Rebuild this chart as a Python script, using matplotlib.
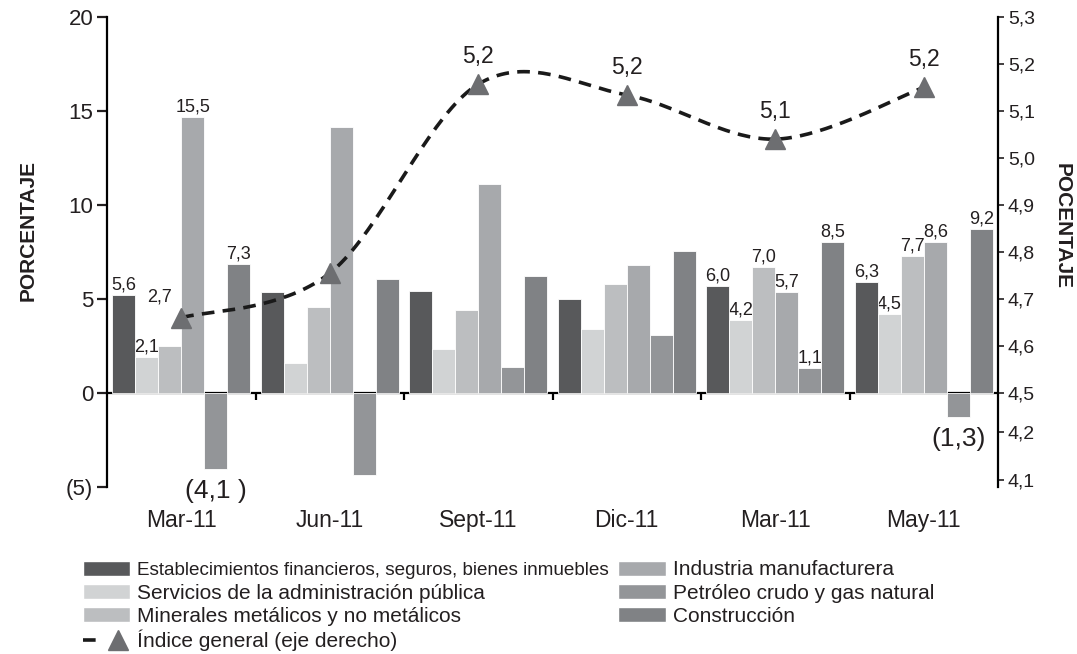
import numpy as np
import matplotlib
matplotlib.use('Agg')
import matplotlib.pyplot as plt
from matplotlib.patches import Patch
from matplotlib.lines import Line2D
from matplotlib.legend_handler import HandlerTuple

plt.rcParams['font.family'] = ['Liberation Sans', 'DejaVu Sans']

# data
categorias = ['Mar-11', 'Jun-11', 'Sept-11', 'Dic-11', 'Mar-11', 'May-11']

financieros  = [5.2, 5.37, 5.43, 5.0, 5.69, 5.9]
servicios    = [1.93, 1.6, 2.34, 3.4, 3.88, 4.2]
minerales    = [2.5, 4.57, 4.41, 5.8, 6.7, 7.29]
industria    = [14.7, 14.15, 11.1, 6.8, 5.37, 8.03]
petroleo     = [-4.05, -4.36, 1.38, 3.09, 1.33, -1.28]
construccion = [6.86, 6.06, 6.22, 7.55, 8.03, 8.72]
indice       = [4.66, 4.755, 5.157, 5.134, 5.04, 5.15]

lab_financieros  = ['5,6', '', '', '', '6,0', '6,3']
lab_servicios    = ['2,1', '', '', '', '4,2', '4,5']
lab_minerales    = ['', '', '', '', '7,0', '7,7']
lab_industria    = ['15,5', '', '', '', '5,7', '8,6']
lab_petroleo     = ['(4,1 )', '', '', '', '1,1', '(1,3)']
lab_construccion = ['7,3', '', '', '', '8,5', '9,2']
lab_indice       = ['2,7', '', '5,2', '5,2', '5,1', '5,2']

nombres = ['Establecimientos financieros, seguros, bienes inmuebles',
           'Servicios de la administración pública',
           'Minerales metálicos y no metálicos',
           'Industria manufacturera',
           'Petróleo crudo y gas natural',
           'Construcción']
nombre_indice = 'Índice general (eje derecho)'

izq_ticks = [-5, 0, 5, 10, 15, 20]
izq_labels = ['(5)', '0', '5', '10', '15', '20']
der_ticks = [4.315, 4.417, 4.5, 4.6, 4.7, 4.8, 4.9, 5.0, 5.1, 5.2, 5.3]
der_labels = ['4,1', '4,2', '4,5', '4,6', '4,7', '4,8', '4,9', '5,0', '5,1', '5,2', '5,3']

colores = ['#58595b', '#d1d3d4', '#bcbec0', '#a7a9ac', '#939598', '#808285']
txt = '#231f20'


def suavizar(ax, xs, ys, n=40):
	# Bezier through the points, like a spreadsheet "smoothed line"
	p = ax.transData.transform(np.column_stack([xs, ys]))
	p = np.vstack([p[0], p, p[-1]])
	out = []
	t = np.linspace(0, 1, n)[:, None]
	for i in range(1, len(p) - 2):
		p0, p3 = p[i], p[i + 1]
		c1 = p0 + (p[i + 1] - p[i - 1]) / 6.0
		c2 = p3 - (p[i + 2] - p[i]) / 6.0
		seg = (1 - t)**3 * p0 + 3 * (1 - t)**2 * t * c1 + 3 * (1 - t) * t**2 * c2 + t**3 * p3
		out.append(seg)
	out = np.vstack(out)
	d = ax.transData.inverted().transform(out)
	return d[:, 0], d[:, 1]


fig = plt.figure(figsize=(10.77, 6.54), dpi=100)
ax = fig.add_axes([0.0994, 0.2554, 0.8273, 0.7187])
ax2 = ax.twinx()

ax.set_xlim(-0.5, 5.5)
ax.set_ylim(-5, 20)
ax2.set_ylim(4.3, 5.3)

x = np.arange(len(categorias))
w = 0.155
series = [financieros, servicios, minerales, industria, petroleo, construccion]
etiquetas = [lab_financieros, lab_servicios, lab_minerales, lab_industria, lab_petroleo, lab_construccion]

ax.axhline(0, color='black', lw=1.6, zorder=1)
ax.vlines(x[:-1] + 0.5, -0.4, 0, color='black', lw=1.6, zorder=1)

for i, vals in enumerate(series):
	xi = x + (i - 2.5) * w
	ax.bar(xi, vals, w, color=colores[i], edgecolor='white', linewidth=0.6, zorder=3)
	for xx, v, s in zip(xi, vals, etiquetas[i]):
		if not s:
			continue
		if v < 0:
			ax.annotate(s, (xx, v), xytext=(0, -7), textcoords='offset points',
				ha='center', va='top', fontsize=19, color=txt, zorder=2)
		else:
			ax.annotate(s, (xx, v), xytext=(0, 1), textcoords='offset points',
				ha='center', va='bottom', fontsize=13, color=txt, zorder=2)

# general index on right axis
lx, ly = suavizar(ax2, x, indice)
ax2.plot(lx, ly, color='#1a1a1a', lw=2.6, linestyle=(0, (3.5, 2.3)), zorder=4)
ax2.plot(x, indice, linestyle='none', marker='^', markersize=15, color='#6d6e71', zorder=5)
for i, (xx, v, s) in enumerate(zip(x, indice, lab_indice)):
	if not s:
		continue
	if i == 0:
		ax2.annotate(s, (xx, v), xytext=(-16, 15), textcoords='offset points',
			ha='center', va='center', fontsize=13, color=txt)
	else:
		ax2.annotate(s, (xx, v), xytext=(0, 20), textcoords='offset points',
			ha='center', va='center', fontsize=16.5, color=txt)

# spines and ticks
for s in ['top', 'bottom', 'right']:
	ax.spines[s].set_visible(False)
for s in ['top', 'bottom', 'left']:
	ax2.spines[s].set_visible(False)
ax.spines['left'].set_linewidth(1.6)
ax2.spines['right'].set_linewidth(1.6)

ax.set_yticks(izq_ticks, izq_labels)
ax.tick_params(axis='y', direction='out', length=7, width=1.6, labelsize=16, pad=3, colors=txt)
ax2.set_yticks(der_ticks, der_labels)
ax2.tick_params(axis='y', direction='out', length=4, width=1.2, labelsize=14, pad=3, colors=txt)

ax.set_xticks(x, categorias)
ax.tick_params(axis='x', length=0, pad=16, labelsize=16.5, colors=txt)

fig.text(0.026, 0.648, 'PORCENTAJE', rotation=90, ha='center', va='center',
	fontsize=15, fontweight='bold', color=txt)
fig.text(0.986, 0.655, 'POCENTAJE', rotation=270, ha='center', va='center',
	fontsize=15, fontweight='bold', color=txt)

# legend
parches = [Patch(facecolor=c, edgecolor='white') for c in colores]
linea = (Line2D([], [], color='#1a1a1a', lw=2.6, linestyle=(0, (3.5, 20))),
	Line2D([], [], linestyle='none', marker='^', markersize=14, color='#6d6e71'))
handles = parches[:3] + [linea] + parches[3:]
labels = nombres[:3] + [nombre_indice] + nombres[3:]
leg = fig.legend(handles, labels, loc='upper left', bbox_to_anchor=(0.077, 0.143),
	ncol=2, frameon=False, fontsize=15, handlelength=2.26, handleheight=0.72,
	handletextpad=0.35, columnspacing=0.45, labelspacing=0.2, borderpad=0,
	borderaxespad=0, handler_map={tuple: HandlerTuple(ndivide=None)})
for t in leg.get_texts():
	t.set_color(txt)
leg.get_texts()[0].set_fontsize(13.6)

fig.savefig('out.png', dpi=100)
